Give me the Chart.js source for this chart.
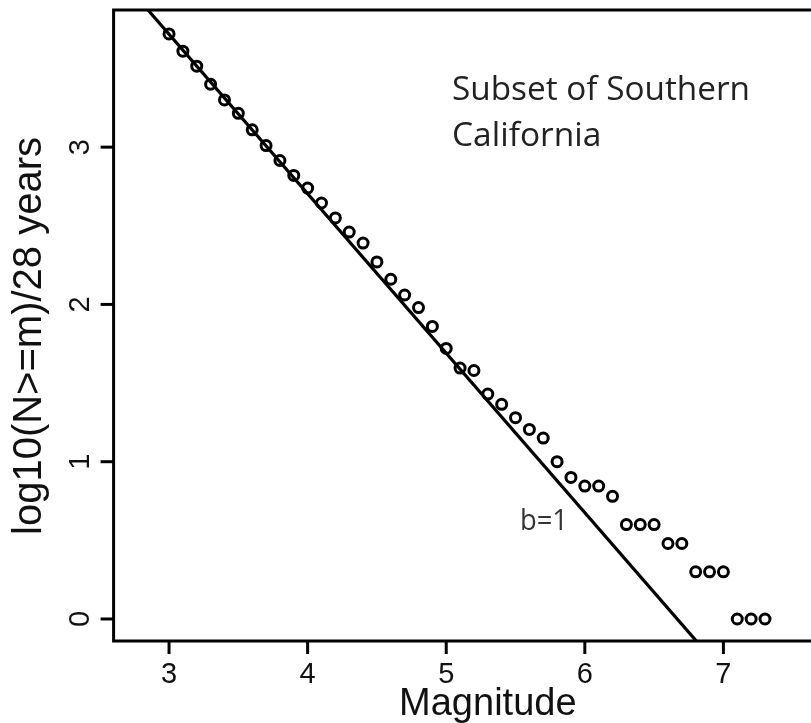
<!DOCTYPE html>
<html>
<head>
<meta charset="utf-8">
<script src="https://cdn.jsdelivr.net/npm/chart.js@4"></script>
<style>
  html, body { margin: 0; padding: 0; background: #fff; overflow: hidden; }
  #wrap { width: 880px; height: 723px; }
</style>
</head>
<body>
<div id="wrap"><canvas id="c" width="880" height="723"></canvas></div>
<script>
// ---- data ----
const magnitudes = [3.0,3.1,3.2,3.3,3.4,3.5,3.6,3.7,3.8,3.9,4.0,4.1,4.2,4.3,4.4,4.5,4.6,4.7,4.8,4.9,
                    5.0,5.1,5.2,5.3,5.4,5.5,5.6,5.7,5.8,5.9,6.0,6.1,6.2,6.3,6.4,6.5,6.6,6.7,6.8,6.9,
                    7.0,7.1,7.2,7.3];
const logCounts = [3.72,3.61,3.515,3.40,3.30,3.215,3.11,3.01,2.915,2.82,2.74,2.645,2.55,2.46,2.39,2.27,2.16,2.06,1.98,1.86,
                   1.72,1.595,1.58,1.43,1.365,1.28,1.205,1.15,1.00,0.90,0.845,0.845,0.78,0.60,0.60,0.60,0.48,0.48,0.30,0.30,
                   0.30,0.00,0.00,0.00];
const fitIntercept = 6.76;
const fitSlope = -1.014;
const xTicks = [3,4,5,6,7];
const yTicks = [0,1,2,3];
const xRange = [2.6, 8.0];
const yRange = [-0.14, 3.872];
const xTitle = "Magnitude";
const yTitle = "log10(N>=m)/28 years";
const noteLines = ["Subset of Southern", "California"];
const fitLabel = "b=1";

const points = magnitudes.map((m, i) => ({x: m, y: logCounts[i]}));
const fitLine = xRange.map(x => ({x: x, y: fitIntercept + fitSlope * x}));

const decor = {
  id: 'decor',
  afterDraw(chart) {
    const ctx = chart.ctx;
    const xs = chart.scales.x, ys = chart.scales.y;
    const a = chart.chartArea;
    ctx.save();
    ctx.strokeStyle = '#000';
    ctx.lineWidth = 3;
    ctx.lineCap = 'butt';
    // box
    ctx.beginPath();
    ctx.moveTo(a.right, a.top); ctx.lineTo(a.left, a.top);
    ctx.lineTo(a.left, a.bottom); ctx.lineTo(a.right, a.bottom);
    ctx.lineTo(a.right, a.top);
    ctx.stroke();
    // x ticks
    ctx.fillStyle = '#111';
    ctx.font = '29px "Liberation Sans", Arial, sans-serif';
    ctx.textAlign = 'center';
    ctx.textBaseline = 'alphabetic';
    xTicks.forEach(t => {
      const px = xs.getPixelForValue(t);
      ctx.beginPath(); ctx.moveTo(px, a.bottom); ctx.lineTo(px, a.bottom + 13); ctx.stroke();
      ctx.fillText(String(t), px, 683);
    });
    // y ticks
    yTicks.forEach(t => {
      const py = ys.getPixelForValue(t);
      ctx.beginPath(); ctx.moveTo(a.left, py); ctx.lineTo(a.left - 13, py); ctx.stroke();
      ctx.save();
      ctx.translate(89, py);
      ctx.rotate(-Math.PI / 2);
      ctx.fillText(String(t), 0, 0);
      ctx.restore();
    });
    // titles
    ctx.font = '38px "Liberation Sans", Arial, sans-serif';
    ctx.fillText(xTitle, (a.left + a.right) / 2, 715);
    ctx.save();
    ctx.font = '40px "Liberation Sans", Arial, sans-serif';
    ctx.translate(41, 336);
    ctx.rotate(-Math.PI / 2);
    ctx.fillText(yTitle, 0, 0);
    ctx.restore();
    // annotations
    ctx.textAlign = 'left';
    ctx.fillStyle = '#222';
    ctx.font = '33.5px "Open Sans", sans-serif';
    ctx.fillText(noteLines[0], 452, 100, 298);
    ctx.fillText(noteLines[1], 452, 146);
    ctx.fillStyle = '#333';
    ctx.font = '29px "Open Sans", sans-serif';
    ctx.fillText(fitLabel, 520, 530, 48);
    ctx.restore();
  }
};

new Chart(document.getElementById('c'), {
  type: 'scatter',
  data: {
    datasets: [
      {
        type: 'line',
        data: fitLine,
        borderColor: '#000',
        borderWidth: 3.2,
        pointRadius: 0,
        fill: false,
        clip: 0,
        order: 2
      },
      {
        data: points,
        pointStyle: 'circle',
        pointRadius: 5,
        pointBorderWidth: 3,
        borderColor: '#000',
        backgroundColor: 'rgba(0,0,0,0)',
        pointBackgroundColor: 'rgba(0,0,0,0)',
        clip: false,
        order: 1
      }
    ]
  },
  options: {
    responsive: false,
    animation: false,
    events: [],
    layout: { padding: { left: 113.6, top: 10, right: 18, bottom: 82 } },
    plugins: { legend: { display: false }, tooltip: { enabled: false } },
    scales: {
      x: { type: 'linear', display: false, min: xRange[0], max: xRange[1] },
      y: { type: 'linear', display: false, min: yRange[0], max: yRange[1] }
    }
  },
  plugins: [decor]
});
</script>
</body>
</html>
